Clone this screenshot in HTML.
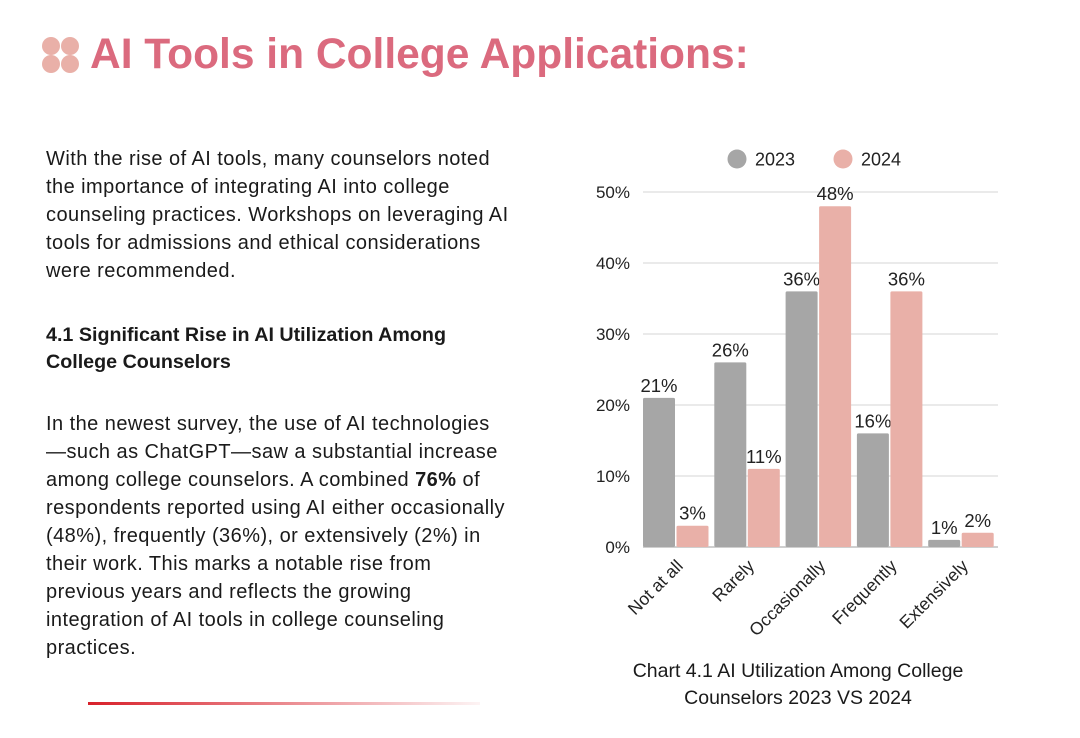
<!DOCTYPE html>
<html><head><meta charset="utf-8">
<style>
body{margin:0;width:1080px;height:738px;background:#fff;position:relative;overflow:hidden;font-family:"Liberation Sans",sans-serif;color:#1a1a1a}
.t{position:absolute;left:46px;font-size:20px;letter-spacing:0.45px;white-space:nowrap;line-height:28px}
.h{font-weight:bold;font-size:19.7px;letter-spacing:0}
#title{position:absolute;left:90px;top:27px;font-size:42.5px;font-weight:bold;color:#db6a7e;white-space:nowrap;line-height:56px}
.dot{position:absolute;width:18px;height:18px;border-radius:50%;background:#e9b0a8}
.cap{position:absolute;left:573px;width:450px;text-align:center;font-size:19.5px;line-height:27px}
</style></head><body>
<div>
<div class="dot" style="left:42px;top:37px"></div><div class="dot" style="left:61px;top:37px"></div>
<div class="dot" style="left:42px;top:55px"></div><div class="dot" style="left:61px;top:55px"></div>
</div>
<div id="title">AI Tools in College Applications:</div>
<div>
<div class="t" style="top:145px">With the rise of AI tools, many counselors noted</div>
<div class="t" style="top:173px">the importance of integrating AI into college</div>
<div class="t" style="top:201px">counseling practices. Workshops on leveraging AI</div>
<div class="t" style="top:229px">tools for admissions and ethical considerations</div>
<div class="t" style="top:257px">were recommended.</div>
</div>
<div>
<div class="t h" style="top:321px">4.1 Significant Rise in AI Utilization Among</div>
<div class="t h" style="top:348px">College Counselors</div>
</div>
<div>
<div class="t" style="top:410px">In the newest survey, the use of AI technologies</div>
<div class="t" style="top:438px">—such as ChatGPT—saw a substantial increase</div>
<div class="t" style="top:466px">among college counselors. A combined <b>76%</b> of</div>
<div class="t" style="top:494px">respondents reported using AI either occasionally</div>
<div class="t" style="top:522px">(48%), frequently (36%), or extensively (2%) in</div>
<div class="t" style="top:550px">their work. This marks a notable rise from</div>
<div class="t" style="top:578px">previous years and reflects the growing</div>
<div class="t" style="top:606px">integration of AI tools in college counseling</div>
<div class="t" style="top:634px">practices.</div>
</div>
<div style="position:absolute;left:88px;top:702px;width:392px;height:3px;background:linear-gradient(90deg,#d8202a,rgba(216,32,42,0.05))"></div>
<svg id="chart" width="1080" height="738" style="position:absolute;left:0;top:0" font-family="Liberation Sans, sans-serif"></svg>
<div class="cap" style="top:658px">Chart 4.1 AI Utilization Among College<br>Counselors 2023 VS 2024</div>
<script>
const categories=["Not at all","Rarely","Occasionally","Frequently","Extensively"];
const values2023=[21,26,36,16,1];
const values2024=[3,11,48,36,2];
const yTicks=[0,10,20,30,40,50];
const seriesNames=["2023","2024"];
const svg=document.getElementById('chart');
const NS="http://www.w3.org/2000/svg";
const x0=643,x1=998,yB=547,yT=192,maxV=50;
const y=v=>yB-(v/maxV)*(yB-yT);
const pitch=(x1-x0+1.5)/categories.length;
const bw=32;
function mk(t,a,txt){const e=document.createElementNS(NS,t);for(const k in a)e.setAttribute(k,a[k]);if(txt!=null)e.textContent=txt;svg.appendChild(e);return e;}
yTicks.forEach(v=>{
 const l=mk('line',{x1:x0,x2:x1,y1:y(v),y2:y(v),stroke:v===0?'#cfcfcf':'#e3e3e3','stroke-width':v===0?2:1.5});
 
 
 const t=mk('text',{x:630,y:y(v)+6,'text-anchor':'end','font-size':17,fill:'#222'},v+'%');
 
 
});
const colors=['#a6a6a6','#e9b0a8'];
categories.forEach((c,i)=>{
 const gx=x0+i*pitch;
 [values2023[i],values2024[i]].forEach((v,s)=>{
  const bx=gx+s*(bw+1.5);
  const r=mk('rect',{x:bx,y:y(v),width:bw,height:yB-y(v),fill:colors[s],rx:1.5});
  
  
  const t=mk('text',{x:bx+bw/2,y:y(v)-6,'text-anchor':'middle','font-size':18.5,fill:'#222'},v+'%');
  
  
 });
 const cx=gx+bw+1;
 const t=mk('text',{x:cx+8,y:yB+20,'text-anchor':'end','font-size':17.5,fill:'#222',transform:`rotate(-45 ${cx+8} ${yB+20})`},c);
 
 
});
[[737,755],[843,861]].forEach((p,s)=>{
 const c=mk('circle',{cx:p[0],cy:159,r:9.5,fill:colors[s]});
 
 
 const t=mk('text',{x:p[1],y:165.5,'font-size':18,fill:'#222'},seriesNames[s]);
 
 
});
</script>
</body></html>
